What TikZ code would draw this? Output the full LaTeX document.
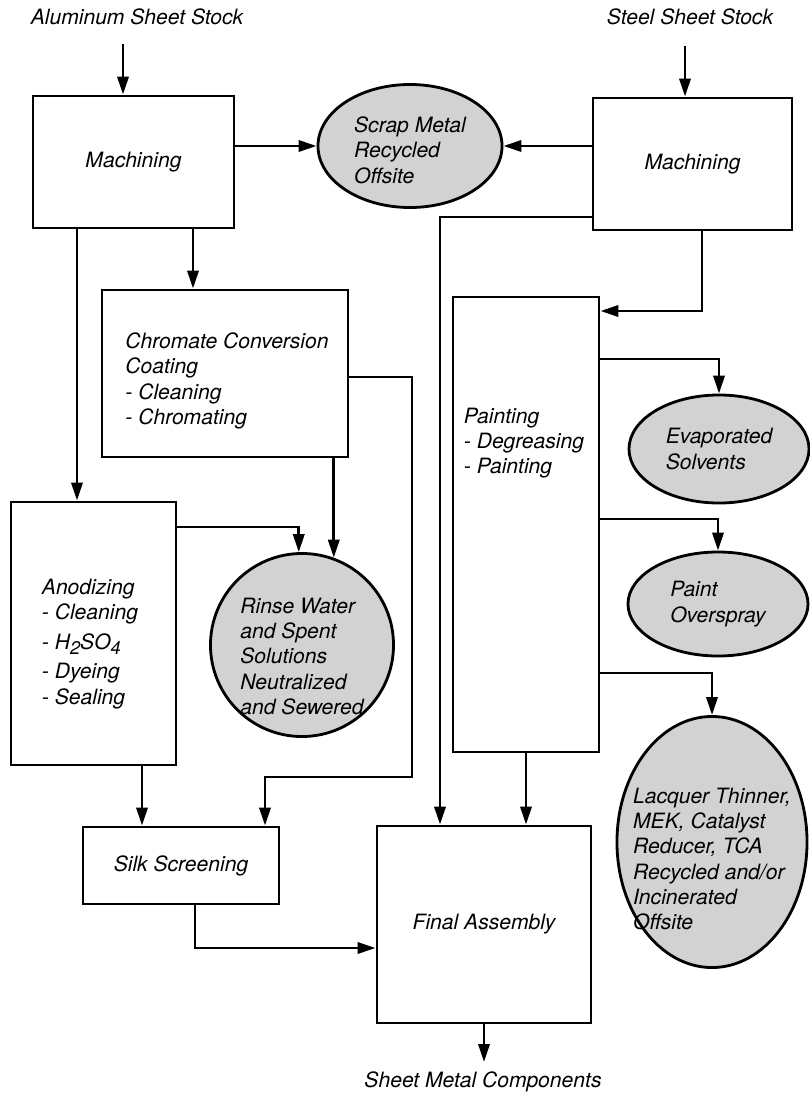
\documentclass[tikz,border=0pt]{standalone}
\usepackage{fontspec}
\setmainfont{TeX Gyre Heros}
\usetikzlibrary{arrows.meta,positioning,shapes.geometric}

\newcommand{\lowsub}[1]{\raisebox{-3.5pt}{\fontsize{13}{13}\selectfont #1}}

\begin{document}
\begin{tikzpicture}[
x=0.025cm, y=-0.025cm,
font=\fontsize{15}{18}\selectfont\itshape,
box/.style={draw, line width=2pt, align=left, inner sep=0pt},
waste/.style={draw, ellipse, line width=2pt, fill=gray!35, inner sep=0pt},
txt/.style={align=left, inner sep=0pt},
arrow/.style={-{Triangle[length=0.45cm, width=0.28cm]}, line width=2pt}
]
\useasboundingbox (0,0) rectangle (809,1097);

% inputs and output
\node[txt] (alstock) at (137,17) {Aluminum Sheet Stock};
\node[txt] (ststock) at (690,17) {Steel Sheet Stock};
\node[txt] (product) at (483,1082) {Sheet Metal Components};
\coordinate (alin) at (123,44);
\coordinate (stin) at (685,46);
\coordinate (out) at (484,1062);

% process boxes
\node[box, minimum width=5.025cm, minimum height=3.3cm] (almach) at (133.5,162) {Machining};
\node[box, minimum width=4.975cm, minimum height=3.3cm] (stmach) at (692.5,164) {Machining};
\node[box, minimum width=6.15cm, minimum height=4.175cm] (chromate) at (225,373.5) {};
\node[txt] (chromtxt) at (227,381) {Chromate Conversion\\Coating\\- Cleaning\\- Chromating};
\node[box, minimum width=4.125cm, minimum height=6.575cm] (anodize) at (93.5,633.5) {};
\node[txt] (anodtxt) at (90,644)
  {Anodizing\\- Cleaning\\[3pt]- H\lowsub{2}SO\lowsub{4}\\[3pt]- Dyeing\\- Sealing};
\node[box, minimum width=3.65cm, minimum height=11.375cm] (paint) at (526,524.5) {};
\node[txt] (painttxt) at (524,443) {Painting\\- Degreasing\\- Painting};
\node[box, minimum width=4.9cm, minimum height=1.925cm] (silk) at (181,865.5) {Silk Screening};
\node[box, minimum width=5.35cm, minimum height=4.925cm] (final) at (484,924.5) {Final Assembly};

% waste streams
\node[waste, minimum width=4.6cm, minimum height=3.075cm,
  label={[txt, yshift=-3pt]center:Scrap Metal\\Recycled\\Offsite}] (scrap) at (410,146) {};
\node[waste, circle, minimum size=4.575cm,
  label={[txt, yshift=-8pt]center:Rinse Water\\and Spent\\Solutions\\Neutralized\\and Sewered}] (rinse) at (302,645) {};
\node[waste, minimum width=4.5cm, minimum height=2.7cm,
  label={[txt]center:Evaporated\\Solvents}] (evap) at (719,449) {};
\node[waste, minimum width=4.5cm, minimum height=2.6cm,
  label={[txt]center:Paint\\Overspray}] (oversp) at (718,604) {};
\node[waste, minimum width=4.75cm, minimum height=6.275cm,
  label={[txt, yshift=-12pt]center:Lacquer Thinner,\\MEK, Catalyst\\Reducer, TCA\\Recycled and/or\\Incinerated\\Offsite}] (lacq) at (712,842) {};

% aluminum line
\draw[arrow] (alin) -- (alin |- almach.north);
\draw[arrow] (almach.east |- scrap.west) -- (scrap.west);
\draw[arrow] (almach.south -| 77,0) -- (anodize.north -| 77,0);
\draw[arrow] (almach.south -| 193,0) -- (chromate.north -| 193,0);
\draw[arrow] (chromate.south -| rinse.70) -- (rinse.70);
\draw[arrow] (chromate.east |- 0,377) -| (412,777) -| (silk.north -| 265,0);
\draw[arrow] (anodize.east |- 0,527) -| (rinse.92);
\draw[arrow] (anodize.south -| 142,0) -- (silk.north -| 142,0);
\draw[arrow] (silk.south -| 195,0) |- (final.west |- 0,948);

% steel line
\draw[arrow] (stin) -- (stin |- stmach.north);
\draw[arrow] (stmach.west |- scrap.east) -- (scrap.east);
\draw[arrow] (stmach.west |- 0,217) -| (final.north -| 440,0);
\draw[arrow] (stmach.south -| 702,0) |- (paint.east |- 0,311);
\draw[arrow] (paint.east |- 0,359) -| (evap.north);
\draw[arrow] (paint.east |- 0,519) -| (oversp.north);
\draw[arrow] (paint.east |- 0,673) -| (lacq.north);
\draw[arrow] (paint.south) -- (paint.south |- final.north);
\draw[arrow] (final.south) -- (out);
\end{tikzpicture}
\end{document}
